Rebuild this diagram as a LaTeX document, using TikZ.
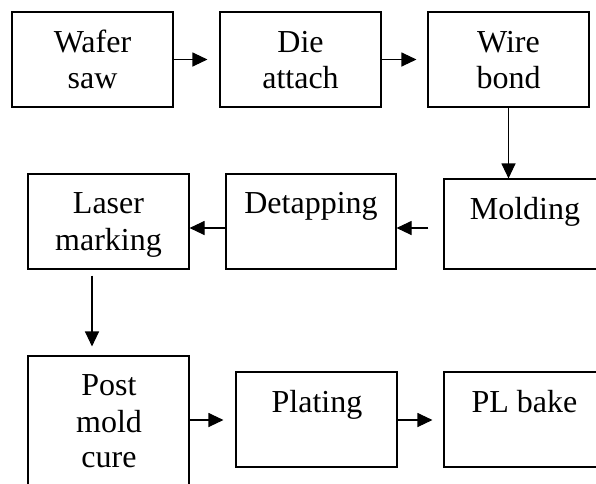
\documentclass[tikz,border=0pt]{standalone}
\usepackage{fontspec}
\setmainfont{Liberation Serif}
\usetikzlibrary{arrows.meta}
\begin{document}
\begin{tikzpicture}[x=1pt,y=-1pt,
  box/.style={draw=black, line width=1.1pt, rectangle, inner sep=0pt},
  lbl/.style={anchor=base, inner sep=0pt, font=\fontsize{32}{36}\selectfont},
  flow/.style={line width=1.1pt, -{Triangle[length=15pt,width=14pt]}}]
\useasboundingbox (0,0) rectangle (596,483);
\clip (0,0) rectangle (596,483);
% boxes
\node[box, minimum width=161pt, minimum height=95pt] (ws) at (92.5,59.5) {};
\node[box, minimum width=161pt, minimum height=95pt] (da) at (300.5,59.5) {};
\node[box, minimum width=161pt, minimum height=95pt] (wb) at (508.5,59.5) {};
\node[box, minimum width=161pt, minimum height=95pt] (lm) at (108.5,221.5) {};
\node[box, minimum width=170pt, minimum height=95pt] (dt) at (311,221.5) {};
\node[box, minimum width=170pt, minimum height=90pt] (mo) at (529,224) {};
\node[box, minimum width=161pt, minimum height=140pt] (pm) at (108.5,426) {};
\node[box, minimum width=161pt, minimum height=95pt] (pl) at (316.5,419.5) {};
\node[box, minimum width=170pt, minimum height=95pt] (pb) at (529,419.5) {};
% texts
\node[lbl] (t1a) at (92.5,52) {Wafer};
\node[lbl] (t1b) at (92.5,88) {saw};
\node[lbl] (t2a) at (300.5,52) {Die};
\node[lbl] (t2b) at (300.5,88) {attach};
\node[lbl] (t3a) at (508.5,52) {Wire};
\node[lbl] (t3b) at (508.5,88) {bond};
\node[lbl] (t4a) at (108.5,213) {Laser};
\node[lbl] (t4b) at (108.5,250) {marking};
\node[lbl] (t5) at (311,213) {Detapping};
\node[lbl] (t6) at (525,219) {Molding};
\node[lbl] (t7a) at (109,395) {Post};
\node[lbl] (t7b) at (109,432) {mold};
\node[lbl] (t7c) at (109,467) {cure};
\node[lbl] (t8) at (317,412) {Plating};
\node[lbl] (t9) at (524.5,412) {PL bake};
% connector helpers
\coordinate (r2) at (0,228);
\coordinate (r3) at (0,420);
\coordinate (c1) at (92,0);
% connectors
\draw[flow, shorten >=12pt] (ws.east) -- (da.west);
\draw[flow, shorten >=11pt] (da.east) -- (wb.west);
\draw[flow] (wb.south) -- (wb.south |- mo.north);
\draw[flow, shorten <=15pt] (mo.west |- r2) -- (dt.east |- r2);
\draw[flow] (dt.west |- r2) -- (lm.east |- r2);
\draw[flow, shorten <=6pt, shorten >=9pt] (lm.south -| c1) -- (pm.north -| c1);
\draw[flow, shorten >=12pt] (pm.east |- r3) -- (pl.west |- r3);
\draw[flow, shorten >=11pt] (pl.east |- r3) -- (pb.west |- r3);
\end{tikzpicture}
\end{document}
